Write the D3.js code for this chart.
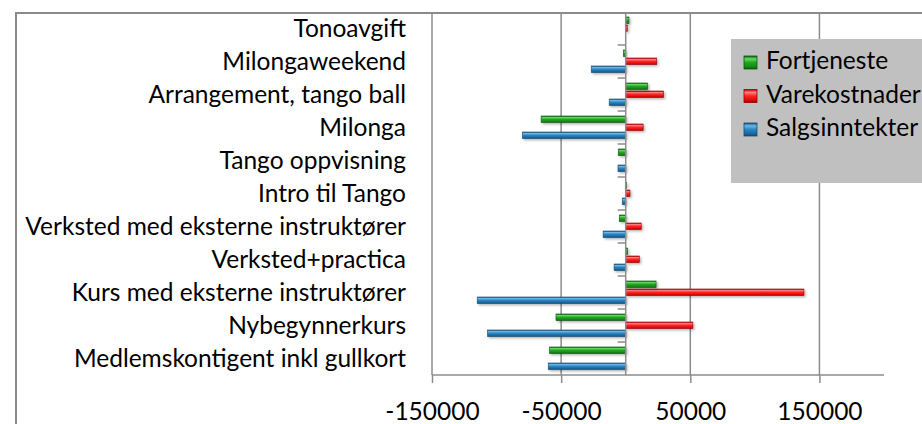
<!DOCTYPE html>
<html>
<head>
<meta charset="utf-8">
<script src="https://cdn.jsdelivr.net/npm/d3@7"></script>
<style>
  body { margin: 0; background: #fff; }
  text { font-family: Lato, "Open Sans", sans-serif; fill: #000; }
</style>
</head>
<body>
<svg id="chart"></svg>
<script>
// categories listed bottom to top, as in the workbook
var categories = [
  "Medlemskontigent inkl gullkort",
  "Nybegynnerkurs",
  "Kurs med eksterne instruktører",
  "Verksted+practica",
  "Verksted med eksterne instruktører",
  "Intro til Tango",
  "Tango oppvisning",
  "Milonga",
  "Arrangement, tango ball",
  "Milongaweekend",
  "Tonoavgift"
];

var salgsinntekter = [-60000, -107000, -115000, -9000, -17500, -2700, -6000, -80000, -12800, -26700, 0];
var varekostnader  = [0, 52000, 138000, 10500, 12000, 3300, 0, 13500, 29300, 24000, 1200];
var fortjeneste    = [-59000, -54000, 23500, 1500, -5000, 600, -5800, -65500, 17000, -1800, 2500];

var seriesNames = ["Salgsinntekter", "Varekostnader", "Fortjeneste"];
var tickValues = [-150000, -50000, 50000, 150000];

var screen = { width: 922, height: 424 };
var plot = { left: 432, right: 884, top: 12, bottom: 375 };
var fontSize = "24.5px";

var palette = {
  Salgsinntekter: ["#17507a", "#6bb8e6", "#2a86c3", "#1d679c", "#144a72"],
  Varekostnader:  ["#a80000", "#ff8080", "#ff2424", "#e00808", "#9a0000"],
  Fortjeneste:    ["#0c5e0c", "#66d866", "#22a622", "#178a17", "#0b560b"]
};

var svg = d3.select("#chart")
  .attr("width", screen.width)
  .attr("height", screen.height);

var defs = svg.append("defs");

seriesNames.forEach(function(name, i) {
  var g = defs.append("linearGradient")
    .attr("id", "grad" + i)
    .attr("x1", 0).attr("y1", 0).attr("x2", 0).attr("y2", 1);
  var c = palette[name];
  [[0, c[0]], [0.22, c[1]], [0.5, c[2]], [0.82, c[3]], [1, c[4]]].forEach(function(s) {
    g.append("stop").attr("offset", s[0]).attr("stop-color", s[1]);
  });
});

defs.append("filter")
  .attr("id", "shadow")
  .attr("x", "-20%").attr("y", "-50%").attr("width", "140%").attr("height", "200%")
  .append("feDropShadow")
    .attr("dx", 1.5).attr("dy", 1.5)
    .attr("stdDeviation", 1.2)
    .attr("flood-color", "#000")
    .attr("flood-opacity", 0.3);

// chart frame (top and left edges visible)
svg.append("path")
  .attr("d", "M16," + screen.height + " V13 H" + screen.width)
  .attr("fill", "none")
  .attr("stroke", "#8a8a8a")
  .attr("stroke-width", 2);

// scales
var x = d3.scaleLinear()
  .domain([-150000, 200000])
  .range([plot.left, plot.right]);

var y = d3.scaleBand()
  .domain(categories)
  .range([plot.bottom, plot.top]);

var inner = d3.scaleBand()
  .domain(seriesNames)
  .range([y.bandwidth() - 4.5, 4.5]);

// gridlines
svg.append("g")
  .selectAll("line")
  .data(tickValues)
  .join("line")
    .attr("x1", d => x(d)).attr("x2", d => x(d))
    .attr("y1", plot.top).attr("y2", plot.bottom)
    .attr("stroke", "#8c8c8c")
    .attr("stroke-width", 1.5);

// value axis
var xAxis = d3.axisBottom(x)
  .tickValues(tickValues)
  .tickSize(8)
  .tickPadding(20)
  .tickFormat(d => String(d));

var gx = svg.append("g")
  .attr("transform", "translate(0," + plot.bottom + ")")
  .call(xAxis);
gx.select(".domain")
  .attr("d", "M" + plot.left + ",0H" + plot.right)
  .attr("stroke", "#8c8c8c")
  .attr("stroke-width", 1.5);
gx.selectAll(".tick line").attr("stroke", "#8c8c8c").attr("stroke-width", 1.5);
gx.selectAll(".tick text")
  .style("font-family", "Lato, sans-serif")
  .style("font-size", fontSize)
  .attr("fill", "#000");

// bars
var seriesData = [salgsinntekter, varekostnader, fortjeneste];

seriesNames.forEach(function(name, i) {
  svg.append("g")
    .attr("filter", "url(#shadow)")
    .selectAll("rect")
    .data(categories.map((c, j) => ({ cat: c, value: seriesData[i][j] })).filter(d => d.value !== 0))
    .join("rect")
      .attr("x", d => Math.min(x(0), x(d.value)))
      .attr("y", d => y(d.cat) + inner(name) + 0.5)
      .attr("width", d => Math.abs(x(d.value) - x(0)))
      .attr("height", inner.bandwidth() - 1.5)
      .attr("fill", "url(#grad" + i + ")")
      .attr("stroke", palette[name][4])
      .attr("stroke-width", 0.6);
});

// category axis at zero
var catAxis = svg.append("g");
catAxis.append("line")
  .attr("x1", x(0)).attr("x2", x(0))
  .attr("y1", plot.top).attr("y2", plot.bottom)
  .attr("stroke", "#8c8c8c")
  .attr("stroke-width", 1.5);
catAxis.selectAll(".ctick")
  .data(categories.slice(1))
  .join("line")
    .attr("class", "ctick")
    .attr("x1", x(0) - 8).attr("x2", x(0))
    .attr("y1", d => y(d) + y.bandwidth())
    .attr("y2", d => y(d) + y.bandwidth())
    .attr("stroke", "#8c8c8c")
    .attr("stroke-width", 1.5);

// category labels
svg.append("g")
  .selectAll("text")
  .data(categories)
  .join("text")
    .attr("x", 406)
    .attr("y", d => y(d) + y.bandwidth() / 2 + 2)
    .attr("text-anchor", "end")
    .attr("dominant-baseline", "middle")
    .style("font-size", fontSize)
    .text(d => d);

// legend
var legend = svg.append("g");
legend.append("rect")
  .attr("x", 731).attr("y", 39)
  .attr("width", screen.width - 731 + 5).attr("height", 144)
  .attr("fill", "#c0c0c0");

var legendOrder = seriesNames.slice().reverse();
var ly = d3.scalePoint().domain(legendOrder).range([62, 129]);

legend.selectAll(".key")
  .data(legendOrder)
  .join("rect")
    .attr("class", "key")
    .attr("x", 744)
    .attr("y", d => ly(d) - 6)
    .attr("width", 13).attr("height", 13)
    .attr("fill", d => "url(#grad" + seriesNames.indexOf(d) + ")")
    .attr("stroke", d => palette[d][4])
    .attr("stroke-width", 0.8);

legend.selectAll(".lbl")
  .data(legendOrder)
  .join("text")
    .attr("class", "lbl")
    .attr("x", 766)
    .attr("y", d => ly(d) + 1)
    .attr("dominant-baseline", "middle")
    .style("font-size", fontSize)
    .text(d => d);
</script>
</body>
</html>
